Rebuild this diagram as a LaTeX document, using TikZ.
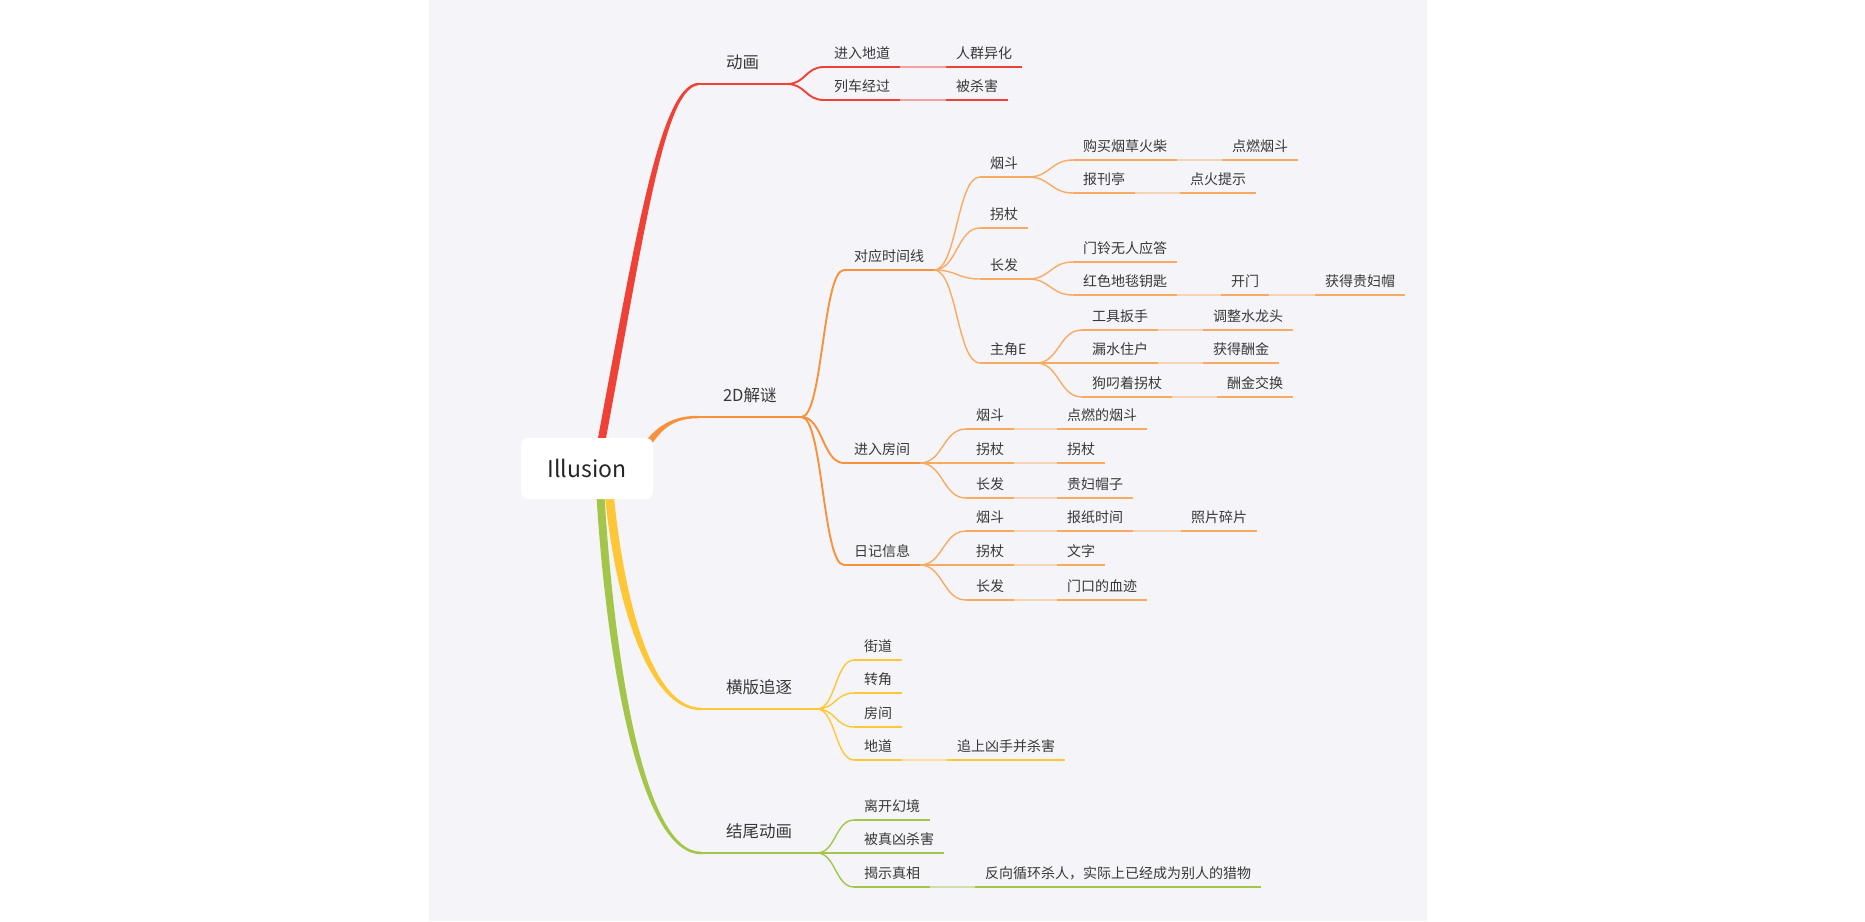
\documentclass[tikz,border=0pt]{standalone}
\usepackage{fontspec}
\newfontfamily\cjk{Noto Sans CJK SC}
\usetikzlibrary{calc,backgrounds}
\definecolor{bgc}{HTML}{F5F5F9}
\definecolor{txt}{HTML}{383838}
\definecolor{cred}{HTML}{EF4136}
\definecolor{corg}{HTML}{F7923A}
\definecolor{corgl}{HTML}{F9AA62}
\definecolor{cyel}{HTML}{FDC737}
\definecolor{cgrn}{HTML}{A3C54A}
\tikzset{
 nd/.style={font=\cjk\fontsize{14}{16}\selectfont, text=txt, inner xsep=10pt, inner ysep=6.5pt, text height=12.3pt, text depth=1.7pt, anchor=south west, outer sep=0pt},
 lone/.style={nd, font=\cjk\fontsize{16.5}{19}\selectfont, inner xsep=25pt, inner ysep=13.7pt, text height=14.5pt, text depth=2pt, minimum width=89pt},
 rootbox/.style={fill=white, rounded corners=7pt, minimum width=132pt, minimum height=61pt, inner sep=0pt, font=\cjk\fontsize{23}{26}\selectfont, text=black!85},
 fork/.style={to path={let \p1=(\tikztostart), \p2=(\tikztotarget) in .. controls ({0.5*\x1+0.5*\x2},\y1) and ({0.5*\x1+0.5*\x2},\y2) .. (\tikztotarget)}},
 wA/.style={line width=2.5pt},
 wB/.style={line width=1.9pt},
 wC/.style={line width=1.4pt},
 fade/.style={opacity=0.45},
}
\newcommand\myul[2]{\draw[#1] (#2.south west) -- (#2.south east);}
\newcommand\myfk[3]{\draw[#1] (#2.south east) to[fork] (#3.south west);}
\newcommand\mysg[3]{\draw[#1,fade] (#2.south east) -- (#3.south west);}
\begin{document}
\begin{tikzpicture}[x=1pt,y=-1pt]
\useasboundingbox (0,0) rectangle (1865,921);
% root
\node[rootbox] (root) at (587,468.5) {Illusion};
% level 1
\node[lone] (A) at (698,84) {动画};
\node[lone] (B) at (698,417) {2D解谜};
\node[lone] (C) at (701,709) {横版追逐};
\node[lone] (D) at (701,853) {结尾动画};
% red subtree
\node[nd] (A1) at (824,67) {进入地道};
\node[nd] (A1a) at (946,67) {人群异化};
\node[nd] (A2) at (824,100) {列车经过};
\node[nd] (A2a) at (946,100) {被杀害};
% orange subtree
\node[nd] (B1) at (844,270) {对应时间线};
\node[nd] (B11) at (980,177) {烟斗};
\node[nd] (B111) at (1073,160) {购买烟草火柴};
\node[nd] (B111a) at (1222,160) {点燃烟斗};
\node[nd] (B112) at (1073,193) {报刊亭};
\node[nd] (B112a) at (1180,193) {点火提示};
\node[nd] (B12) at (980,228) {拐杖};
\node[nd] (B13) at (980,279) {长发};
\node[nd] (B131) at (1073,262) {门铃无人应答};
\node[nd] (B132) at (1073,295) {红色地毯钥匙};
\node[nd] (B132a) at (1221,295) {开门};
\node[nd] (B132b) at (1315,295) {获得贵妇帽};
\node[nd] (B14) at (980,363) {主角E};
\node[nd] (B141) at (1082,330) {工具扳手};
\node[nd] (B141a) at (1203,330) {调整水龙头};
\node[nd] (B142) at (1082,363) {漏水住户};
\node[nd] (B142a) at (1203,363) {获得酬金};
\node[nd] (B143) at (1082,397) {狗叼着拐杖};
\node[nd] (B143a) at (1217,397) {酬金交换};
\node[nd] (B2) at (844,463) {进入房间};
\node[nd] (B21) at (966,429) {烟斗};
\node[nd] (B21a) at (1057,429) {点燃的烟斗};
\node[nd] (B22) at (966,463) {拐杖};
\node[nd] (B22a) at (1057,463) {拐杖};
\node[nd] (B23) at (966,498) {长发};
\node[nd] (B23a) at (1057,498) {贵妇帽子};
\node[nd] (B3) at (844,565) {日记信息};
\node[nd] (B31) at (966,531) {烟斗};
\node[nd] (B31a) at (1057,531) {报纸时间};
\node[nd] (B31b) at (1181,531) {照片碎片};
\node[nd] (B32) at (966,565) {拐杖};
\node[nd] (B32a) at (1057,565) {文字};
\node[nd] (B33) at (966,600) {长发};
\node[nd] (B33a) at (1057,600) {门口的血迹};
% yellow subtree
\node[nd] (C1) at (854,660) {街道};
\node[nd] (C2) at (854,693) {转角};
\node[nd] (C3) at (854,727) {房间};
\node[nd] (C4) at (854,760) {地道};
\node[nd] (C4a) at (947,760) {追上凶手并杀害};
% green subtree
\node[nd] (D1) at (854,820) {离开幻境};
\node[nd] (D2) at (854,853) {被真凶杀害};
\node[nd] (D3) at (854,887) {揭示真相};
\node[nd] (D3a) at (975,887) {反向循环杀人，实际上已经成为别人的猎物};

\begin{scope}[on background layer]
\fill[white] (0,0) rectangle (1865,921);
\fill[bgc] (429,0) rectangle (1427,921);
% thick root branches
\fill[cgrn] ($(root.center)+(8,1.5)$) .. controls (604,651) and (638,854.25) .. ($(D.south west)+(0,1.25)$) -- ($(D.south west)+(0,-1.25)$) .. controls (642,851.75) and (612,649) .. ($(root.center)+(16,1.5)$) -- cycle;
\fill[cyel] ($(root.center)+(15.5,1.5)$) .. controls (612.5,601) and (648,710.25) .. ($(C.south west)+(0,1.25)$) -- ($(C.south west)+(0,-1.25)$) .. controls (652,707.75) and (621.5,599) .. ($(root.center)+(24.5,1.5)$) -- cycle;
\fill[cred] ($(root.center)+(4,6.5)$) .. controls (634,249) and (658,86.5) .. ($(A.south west)+(0,-1.25)$) -- ($(A.south west)+(0,1.25)$) .. controls (662,89.5) and (642,251) .. ($(root.center)+(12,6.5)$) -- cycle;
\fill[corg] ($(root.center)+(50,-15.5)$) .. controls (652,430) and (668,415.75) .. ($(B.south west)+(0,-1.25)$) -- ($(B.south west)+(0,1.25)$) .. controls (668,418.25) and (658,434) .. ($(root.center)+(56,-11.5)$) -- cycle;
\end{scope}

% red lines
\myul{cred,wA}{A}
\myfk{cred,wB}{A}{A1} \myfk{cred,wB}{A}{A2}
\myul{cred,wB}{A1} \myul{cred,wB}{A2}
\mysg{cred,wC}{A1}{A1a} \mysg{cred,wC}{A2}{A2a}
\myul{cred,wC}{A1a} \myul{cred,wC}{A2a}
% orange lines
\myul{corg,wA}{B}
\myfk{corg,wB}{B}{B1} \myfk{corg,wB}{B}{B2} \myfk{corg,wB}{B}{B3}
\myul{corg,wB}{B1} \myul{corg,wB}{B2} \myul{corg,wB}{B3}
\foreach \c in {B11,B12,B13,B14} {\myfk{corgl,wC}{B1}{\c} \myul{corgl,wC}{\c}}
\foreach \c in {B111,B112} {\myfk{corgl,wC}{B11}{\c} \myul{corgl,wC}{\c}}
\foreach \c in {B131,B132} {\myfk{corgl,wC}{B13}{\c} \myul{corgl,wC}{\c}}
\foreach \c in {B141,B142,B143} {\myfk{corgl,wC}{B14}{\c} \myul{corgl,wC}{\c}}
\foreach \c in {B21,B22,B23} {\myfk{corgl,wC}{B2}{\c} \myul{corgl,wC}{\c}}
\foreach \c in {B31,B32,B33} {\myfk{corgl,wC}{B3}{\c} \myul{corgl,wC}{\c}}
\foreach \p/\c in {B111/B111a,B112/B112a,B132/B132a,B132a/B132b,B141/B141a,B142/B142a,B143/B143a,B21/B21a,B22/B22a,B23/B23a,B31/B31a,B31a/B31b,B32/B32a,B33/B33a} {\mysg{corgl,wC}{\p}{\c} \myul{corgl,wC}{\c}}
% yellow lines
\myul{cyel,wA}{C}
\foreach \c in {C1,C2,C3,C4} {\myfk{cyel,wC}{C}{\c} \myul{cyel,wC}{\c}}
\mysg{cyel,wC}{C4}{C4a} \myul{cyel,wC}{C4a}
% green lines
\myul{cgrn,wA}{D}
\foreach \c in {D1,D2,D3} {\myfk{cgrn,wC}{D}{\c} \myul{cgrn,wC}{\c}}
\mysg{cgrn,wC}{D3}{D3a} \myul{cgrn,wC}{D3a}
\end{tikzpicture}
\end{document}
